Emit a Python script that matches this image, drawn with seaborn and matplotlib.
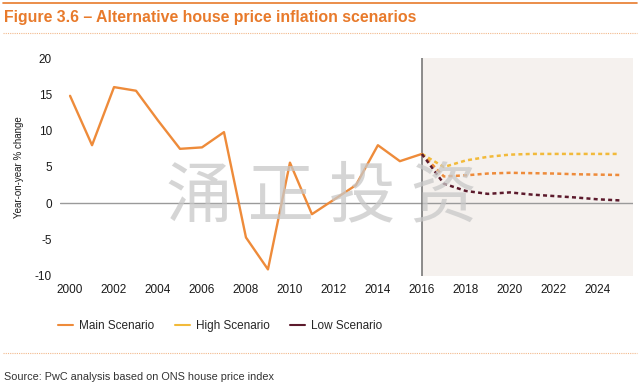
import numpy as np
import pandas as pd
import seaborn as sns
import matplotlib.pyplot as plt
from matplotlib.lines import Line2D
from matplotlib.patches import Rectangle

# historical house price inflation (main scenario up to 2016)
hist_years = list(range(2000, 2017))
hist_main = [14.8, 8.0, 16.0, 15.5, 11.4, 7.5, 7.7, 9.8, -4.7, -9.1,
             5.6, -1.5, 0.5, 2.5, 8.0, 5.8, 6.8]

# projections
proj_years = list(range(2016, 2026))
proj_main = [6.8, 3.7, 3.85, 4.1, 4.2, 4.15, 4.1, 4.0, 3.95, 3.9]
proj_high = [6.8, 5.0, 5.9, 6.4, 6.7, 6.8, 6.8, 6.8, 6.8, 6.8]
proj_low = [6.8, 2.7, 1.7, 1.3, 1.5, 1.2, 1.0, 0.8, 0.55, 0.4]

xticks = list(range(2000, 2025, 2))
yticks = [-10, -5, 0, 5, 10, 15, 20]

c_main = "#EE8B3A"
c_high = "#F2BA3A"
c_low = "#5C1A2C"
c_title = "#E87A2B"

sns.set_theme(style="white")
plt.rcParams["font.family"] = ["Liberation Sans", "DejaVu Sans"]
plt.rcParams["axes.unicode_minus"] = False

hist = pd.DataFrame({"year": hist_years, "value": hist_main})
proj = pd.DataFrame({
    "year": proj_years * 3,
    "value": proj_main + proj_high + proj_low,
    "scenario": ["Main"] * 10 + ["High"] * 10 + ["Low"] * 10,
})

fig = plt.figure(figsize=(6.4, 3.87), dpi=100)
ax = fig.add_axes([0.094, 0.287, 0.895, 0.563])

# forecast shading
ax.add_patch(Rectangle((2016, -10), 9.6, 30, color="#F5F1EE", zorder=0, lw=0))

ax.axhline(0, color="#9a9a9a", lw=1, zorder=1)
ax.axvline(2016, color="#6e6e6e", lw=1.1, zorder=1)

sns.lineplot(data=hist, x="year", y="value", color=c_main, lw=1.7, ax=ax,
             zorder=3, legend=False)
sns.lineplot(data=proj, x="year", y="value", hue="scenario",
             palette={"Main": c_main, "High": c_high, "Low": c_low},
             lw=1.8, ax=ax, zorder=3, legend=False)
for ln in ax.lines[-3:]:
    ln.set_dashes([1.6, 1.3])

ax.set_xlim(1999.55, 2025.6)
ax.set_ylim(-10, 20)
ax.set_xticks(xticks)
ax.set_yticks(yticks)
ax.tick_params(length=0, labelsize=8.5, colors="#1a1a1a", pad=6)
ax.set_xlabel("")
ax.set_ylabel("Year-on-year % change", fontsize=7, color="#1a1a1a", labelpad=8)
for s in ax.spines.values():
    s.set_visible(False)

# watermark
fig.text(0.503, 0.49, "涌 正 投 资", fontsize=48, color="#c8c8c8", alpha=0.75,
         ha="center", va="center", family=["Noto Sans CJK SC", "DejaVu Sans"],
         zorder=0)

handles = [Line2D([], [], color=c, lw=1.5) for c in (c_main, c_high, c_low)]
fig.legend(handles, ["Main Scenario", "High Scenario", "Low Scenario"],
           loc="center left", bbox_to_anchor=(0.074, 0.157), ncol=3, frameon=False,
           fontsize=8.5, handlelength=1.3, handletextpad=0.5, columnspacing=1.7)

# title and rules
fig.add_artist(Line2D([0.005, 0.995], [0.992, 0.992], color=c_title, lw=1.2))
fig.text(0.006, 0.955, "Figure 3.6 – Alternative house price inflation scenarios",
         fontsize=11.4, fontweight="bold", color=c_title, va="center")
fig.add_artist(Line2D([0.005, 0.995], [0.915, 0.915], color="#F2B98C", lw=0.8,
                      ls=(0, (1, 1))))
fig.add_artist(Line2D([0.005, 0.995], [0.088, 0.088], color="#F2B98C", lw=0.8,
                      ls=(0, (1, 1))))
fig.text(0.006, 0.026, "Source: PwC analysis based on ONS house price index",
         fontsize=7.8, color="#333333", va="center")

fig.savefig("out.png", dpi=100)
